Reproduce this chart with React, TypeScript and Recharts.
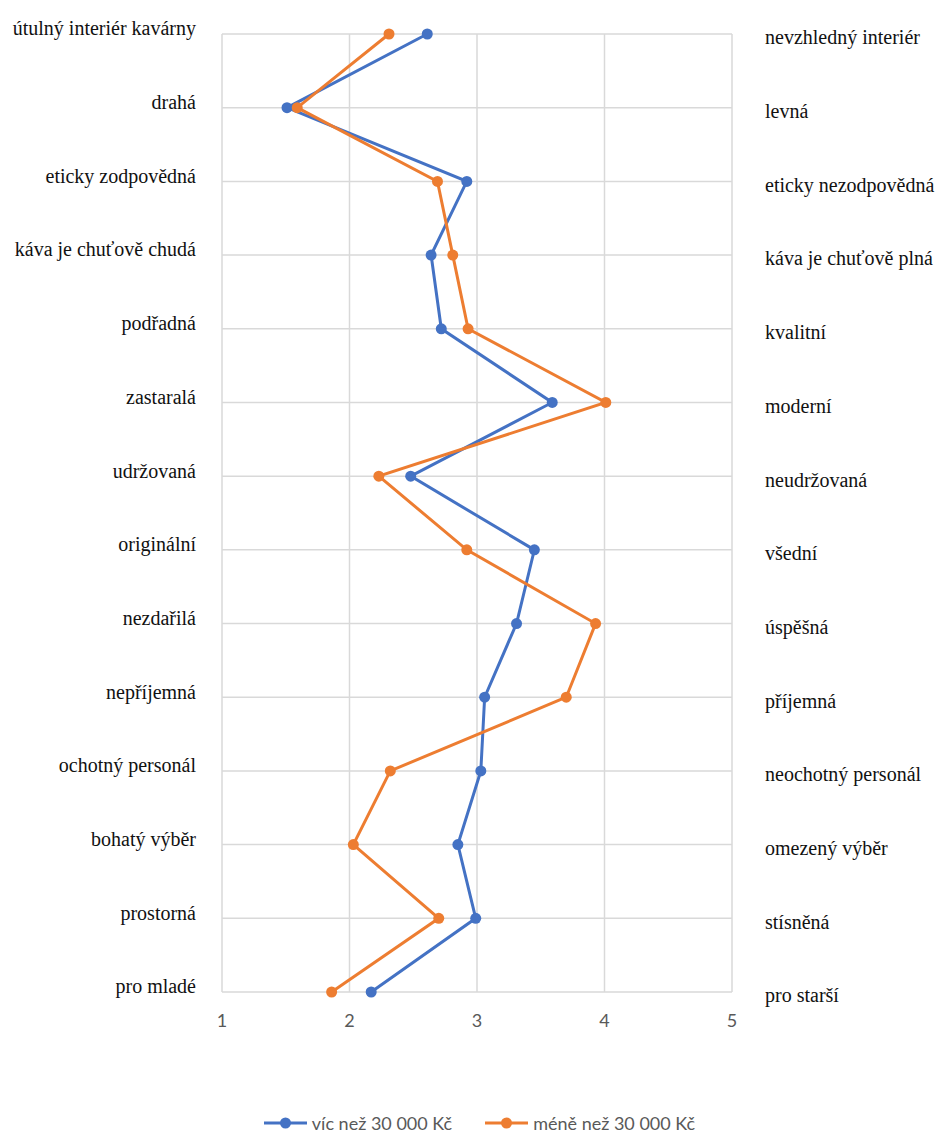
import { LineChart, Line, XAxis, YAxis, CartesianGrid, Legend } from "recharts";

// semantic differential pairs: left pole / right pole
const leftLabels = [
  "útulný interiér kavárny",
  "drahá",
  "eticky zodpovědná",
  "káva je chuťově chudá",
  "podřadná",
  "zastaralá",
  "udržovaná",
  "originální",
  "nezdařilá",
  "nepříjemná",
  "ochotný personál",
  "bohatý výběr",
  "prostorná",
  "pro mladé",
];

const rightLabels = [
  "nevzhledný interiér",
  "levná",
  "eticky nezodpovědná",
  "káva je chuťově plná",
  "kvalitní",
  "moderní",
  "neudržovaná",
  "všední",
  "úspěšná",
  "příjemná",
  "neochotný personál",
  "omezený výběr",
  "stísněná",
  "pro starší",
];

const moreThan30k = [2.61, 1.51, 2.92, 2.64, 2.72, 3.59, 2.48, 3.45, 3.31, 3.06, 3.03, 2.85, 2.99, 2.17];
const lessThan30k = [2.31, 1.59, 2.69, 2.81, 2.93, 4.01, 2.23, 2.92, 3.93, 3.7, 2.32, 2.03, 2.7, 1.86];

const scaleTicks = [1, 2, 3, 4, 5];

const BLUE = "#4472C4";
const ORANGE = "#ED7D31";
const GRID = "#D9D9D9";
const SERIF = "'Liberation Serif', 'Times New Roman', serif";
const SANS = "Lato, 'Noto Sans', sans-serif";

const rows = leftLabels.map((label, i) => ({
  left: label,
  right: rightLabels[i],
  high: moreThan30k[i],
  low: lessThan30k[i],
}));

interface TickProps {
  x: number;
  y: number;
  payload: { value: string | number };
}

const LeftTick = ({ x, y, payload }: TickProps) => (
  <text x={x} y={y - 5} dy="0.32em" textAnchor="end" fill="#111" fontSize={20} fontFamily={SERIF}>
    {payload.value}
  </text>
);

const RightTick = ({ x, y, payload }: TickProps) => (
  <text x={x} y={y + 4} dy="0.32em" textAnchor="start" fill="#111" fontSize={20} fontFamily={SERIF}>
    {payload.value}
  </text>
);

const BottomTick = ({ x, y, payload }: TickProps) => (
  <text x={x} y={y} dy="0.71em" textAnchor="middle" fill="#595959" fontSize={18} fontFamily={SANS}>
    {payload.value}
  </text>
);

interface LegendEntry {
  value: string;
  color: string;
}

const renderLegend = (props: { payload?: LegendEntry[] }) => (
  <div
    style={{
      display: "flex",
      justifyContent: "center",
      alignItems: "center",
      gap: 33,
      paddingLeft: 15,
      height: 20,
      fontFamily: SANS,
      fontSize: 18,
      color: "#595959",
    }}
  >
    {(props.payload || []).map((entry) => (
      <div key={entry.value} style={{ display: "flex", alignItems: "center" }}>
        <svg width={43} height={14}>
          <line x1={0} y1={7} x2={43} y2={7} stroke={entry.color} strokeWidth={3} />
          <circle cx={21.5} cy={7} r={5.5} fill={entry.color} />
        </svg>
        <span style={{ marginLeft: 5 }}>{entry.value}</span>
      </div>
    ))}
  </div>
);

export default function App() {
  return (
    <div style={{ width: 944, height: 1133, background: "#fff" }}>
      <style>{`body { margin: 0; }`}</style>
      <LineChart
        width={944}
        height={1133}
        data={rows}
        layout="vertical"
        margin={{ top: 34, right: 0, bottom: 0, left: 0 }}
      >
        <CartesianGrid stroke={GRID} strokeWidth={1.5} />
        <XAxis
          type="number"
          domain={[1, 5]}
          ticks={scaleTicks}
          axisLine={false}
          tickLine={false}
          tickSize={0}
          tickMargin={22}
          height={121}
          tick={BottomTick}
        />
        <YAxis
          type="category"
          dataKey="left"
          scale="point"
          width={222}
          interval={0}
          axisLine={false}
          tickLine={false}
          tickSize={0}
          tickMargin={26}
          tick={LeftTick}
        />
        <YAxis
          yAxisId="r"
          orientation="right"
          type="category"
          dataKey="right"
          scale="point"
          width={212}
          interval={0}
          axisLine={false}
          tickLine={false}
          tickSize={0}
          tickMargin={33}
          tick={RightTick}
        />
        <Legend
          verticalAlign="bottom"
          itemSorter="dataKey"
          wrapperStyle={{ height: 20 }}
          content={renderLegend}
        />
        <Line
          dataKey="high"
          name="víc než 30 000 Kč"
          stroke={BLUE}
          strokeWidth={3}
          dot={{ r: 5.5, fill: BLUE, stroke: BLUE, strokeWidth: 0 }}
          activeDot={false}
          isAnimationActive={false}
        />
        <Line
          dataKey="low"
          name="méně než 30 000 Kč"
          stroke={ORANGE}
          strokeWidth={3}
          dot={{ r: 5.5, fill: ORANGE, stroke: ORANGE, strokeWidth: 0 }}
          activeDot={false}
          isAnimationActive={false}
        />
      </LineChart>
    </div>
  );
}
